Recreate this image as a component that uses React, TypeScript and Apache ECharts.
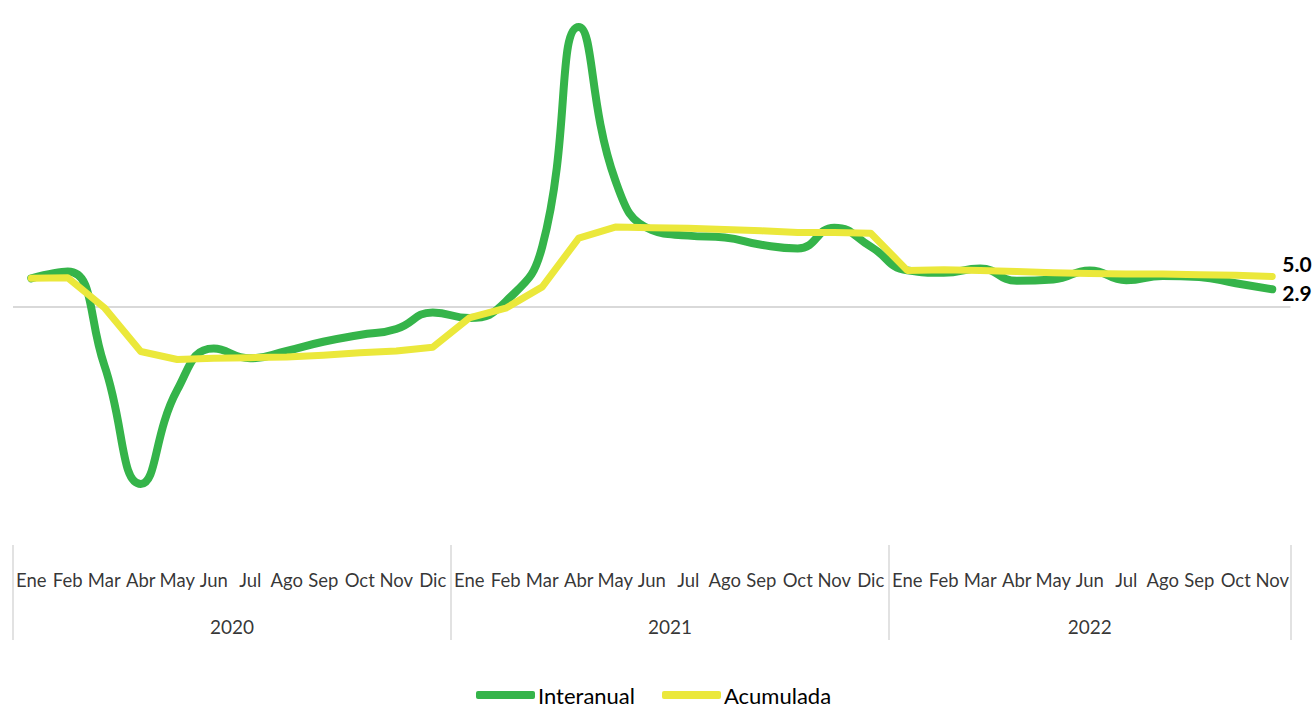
import React, { useEffect, useRef } from "react";
import * as echarts from "echarts";

const monthNames2020 = ["Ene", "Feb", "Mar", "Abr", "May", "Jun", "Jul", "Ago", "Sep", "Oct", "Nov", "Dic"];
const monthNames2021 = ["Ene", "Feb", "Mar", "Abr", "May", "Jun", "Jul", "Ago", "Sep", "Oct", "Nov", "Dic"];
const monthNames2022 = ["Ene", "Feb", "Mar", "Abr", "May", "Jun", "Jul", "Ago", "Sep", "Oct", "Nov"];
const years = ["2020", "2021", "2022"];

const interanual = [
  4.7, 5.8, -9.5, -29.0, -13.6, -6.8, -8.4, -7.2, -5.7, -4.6, -3.6, -0.9,
  -1.8, 0.9, 9.9, 45.9, 20.8, 12.6, 11.7, 11.4, 10.2, 9.6, 13.0, 9.9,
  6.0, 5.6, 6.3, 4.3, 4.5, 6.0, 4.4, 5.1, 4.9, 3.9, 2.9,
];
const acumulada = [
  4.7, 4.8, -0.1, -7.3, -8.6, -8.4, -8.3, -8.2, -7.9, -7.5, -7.2, -6.6,
  -1.8, -0.2, 3.3, 11.3, 13.1, 13.0, 12.9, 12.7, 12.5, 12.2, 12.2, 12.1,
  6.0, 6.1, 6.0, 5.8, 5.6, 5.5, 5.4, 5.4, 5.3, 5.2, 5.0,
];

const FONT = "Lato, 'Noto Sans', sans-serif";

export default function App() {
  const ref = useRef<HTMLDivElement>(null);
  useEffect(() => {
    if (!ref.current) return;
    const chart = echarts.init(ref.current, null, { renderer: "svg" });
    const months = [...monthNames2020, ...monthNames2021, ...monthNames2022];
    const n = months.length;
    const yearSpans = [monthNames2020.length, monthNames2021.length, monthNames2022.length];
    const bounds: number[] = [0];
    yearSpans.forEach((s) => bounds.push(bounds[bounds.length - 1] + s));
    const yearCenters = yearSpans.map((s, i) => bounds[i] + s / 2);

    const endLabel = (offsetY: number) => ({
      show: true,
      distance: 10,
      offset: [0, offsetY],
      formatter: (p: any) => Number(p.value).toFixed(1),
      fontFamily: FONT,
      fontWeight: "bold",
      fontSize: 21,
      color: "#000",
    });

    chart.setOption({
      animation: false,
      backgroundColor: "#ffffff",
      grid: [
        { left: 13, right: 25.5, top: 2, bottom: 186.5 },
        { left: 13, right: 25.5, top: 545, height: 95 },
      ],
      xAxis: [
        {
          type: "category",
          gridIndex: 0,
          data: months,
          boundaryGap: true,
          axisLine: { show: false },
          axisTick: { show: false },
          axisLabel: { show: false },
          splitLine: { show: false },
        },
        { type: "value", gridIndex: 1, min: 0, max: n, show: false },
      ],
      yAxis: [
        { type: "value", gridIndex: 0, min: -35, max: 50, show: false, splitLine: { show: false } },
        { type: "value", gridIndex: 1, min: 0, max: 1, show: false, splitLine: { show: false } },
      ],
      legend: {
        data: [
          { name: "Interanual", icon: "roundRect" },
          { name: "Acumulada", icon: "roundRect" },
        ],
        left: 476,
        top: 684,
        padding: 0,
        itemWidth: 59,
        itemHeight: 8,
        itemGap: 27,
        textStyle: { fontFamily: FONT, fontSize: 22, color: "#000", padding: [0, 0, 0, -2] },
      },
      series: [
        {
          name: "Interanual",
          type: "line",
          xAxisIndex: 0,
          yAxisIndex: 0,
          data: interanual,
          smooth: 0.5,
          symbol: "none",
          lineStyle: { color: "#35b44a", width: 8, cap: "round", join: "round" },
          itemStyle: { color: "#35b44a" },
          endLabel: endLabel(3),
          z: 3,
          markLine: {
            silent: true,
            symbol: "none",
            label: { show: false },
            lineStyle: { color: "#d9d9d9", width: 2, type: "solid" },
            data: [{ yAxis: 0 }],
            z: 1,
          },
        },
        {
          name: "Acumulada",
          type: "line",
          xAxisIndex: 0,
          yAxisIndex: 0,
          data: acumulada,
          smooth: false,
          symbol: "none",
          lineStyle: { color: "#ebe83b", width: 7, cap: "round", join: "round" },
          itemStyle: { color: "#ebe83b" },
          endLabel: endLabel(-13),
          z: 4,
        },
        {
          name: "meses",
          type: "scatter",
          xAxisIndex: 1,
          yAxisIndex: 1,
          symbolSize: 1,
          itemStyle: { color: "rgba(0,0,0,0)" },
          silent: true,
          data: months.map((m, i) => [i + 0.5, 0.63]),
          label: {
            show: true,
            position: "inside",
            formatter: (p: any) => months[p.dataIndex],
            fontFamily: FONT,
            fontSize: 18.5,
            color: "#000",
          },
          markLine: {
            silent: true,
            symbol: "none",
            label: { show: false },
            lineStyle: { color: "#d9d9d9", width: 1.5, type: "solid" },
            data: bounds.map((b) => ({ xAxis: b })),
          },
        },
        {
          name: "anios",
          type: "scatter",
          xAxisIndex: 1,
          yAxisIndex: 1,
          symbolSize: 1,
          itemStyle: { color: "rgba(0,0,0,0)" },
          silent: true,
          data: yearCenters.map((c) => [c, 0.137]),
          label: {
            show: true,
            position: "inside",
            formatter: (p: any) => years[p.dataIndex],
            fontFamily: FONT,
            fontSize: 19,
            color: "#000",
          },
        },
      ],
    });
    return () => chart.dispose();
  }, []);
  return (
    <div
      ref={ref}
      style={{ position: "absolute", left: 0, top: 0, width: 1316, height: 707 }}
    />
  );
}
